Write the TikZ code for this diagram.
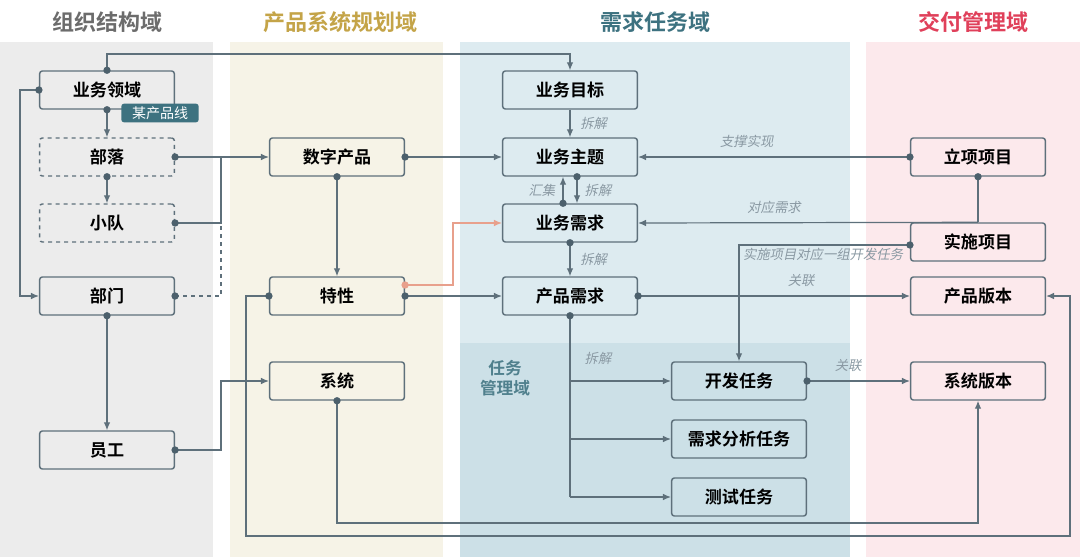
\documentclass[tikz,border=0pt]{standalone}
\usepackage{fontspec}
\setmainfont{Noto Sans CJK SC}
\newfontfamily\cjkb{Noto Sans CJK SC}[BoldFont=* Bold]
\newfontfamily\lblfont{Noto Sans CJK SC}[FakeSlant=0.2]
\usetikzlibrary{arrows.meta}
\definecolor{ln}{HTML}{5E707B}
\definecolor{dotc}{HTML}{4C606C}
\definecolor{bggray}{HTML}{ECECEC}
\definecolor{bgbeige}{HTML}{F6F3E7}
\definecolor{bgblue}{HTML}{DDEBF0}
\definecolor{bgblue2}{HTML}{CCE0E7}
\definecolor{bgpink}{HTML}{FCE9EC}
\definecolor{teal}{HTML}{3D7280}
\definecolor{orng}{HTML}{E8A08C}
\definecolor{lblc}{HTML}{8A99A3}
\begin{document}
\begin{tikzpicture}[x=0.75pt,y=-0.75pt,
  box/.style={draw=ln,line width=1.1pt,rounded corners=2pt,minimum width=101pt,minimum height=28.5pt,font=\cjkb\bfseries\fontsize{12.8}{13}\selectfont,text=black},
  dbox/.style={box,dashed},
  con/.style={draw=ln,line width=0.9pt},
  arr/.style={con,-{Latex[length=6pt,width=5pt]}},
  dot/.style={fill=dotc,circle,inner sep=0pt,minimum size=5.5pt},
  lbl/.style={font=\lblfont\fontsize{10}{10}\selectfont,text=lblc},
  hdr/.style={font=\cjkb\bfseries\fontsize{16.5}{17}\selectfont}]
\useasboundingbox (0,0) rectangle (1080,557);
\fill[white] (0,0) rectangle (1080,557);
% backgrounds
\fill[bggray] (0,42) rectangle (213,557);
\fill[bgbeige] (230,42) rectangle (443,557);
\fill[bgblue] (460,42) rectangle (850,557);
\fill[bgblue2] (460,343) rectangle (850,557);
\fill[bgpink] (866,42) rectangle (1080,557);
% headers
\node[hdr,text=gray!85!black] at (107,22) {组织结构域};
\node[hdr,text={rgb,255:red,196;green,164;blue,72}] at (340,22) {产品系统规划域};
\node[hdr,text=teal] at (655,22) {需求任务域};
\node[hdr,text={rgb,255:red,224;green,64;blue,90}] at (973,22) {交付管理域};
\node[font=\cjkb\bfseries\fontsize{12.5}{15}\selectfont,text=teal!90,align=center] at (505,378) {任务\\管理域};
% nodes
\node[box,fill=bggray] (ly) at (107,90) {业务领域};
\node[dbox,fill=bggray] (bl) at (107,157) {部落};
\node[dbox,fill=bggray] (xd) at (107,223) {小队};
\node[box,fill=bggray] (bm) at (107,296) {部门};
\node[box,fill=bggray] (yg) at (107,450) {员工};
\node[fill=teal,rounded corners=2pt,text=white,font=\fontsize{10.5}{10.5}\selectfont,minimum width=58pt,minimum height=14pt,inner sep=1pt] (tag) at (160,113) {某产品线};
\node[box,fill=bgbeige] (sz) at (337,157) {数字产品};
\node[box,fill=bgbeige] (tx) at (337,296) {特性};
\node[box,fill=bgbeige] (xt) at (337,381) {系统};
\node[box,fill=bgblue] (mb) at (570,90) {业务目标};
\node[box,fill=bgblue] (zt) at (570,157) {业务主题};
\node[box,fill=bgblue] (xq) at (570,223) {业务需求};
\node[box,fill=bgblue] (cp) at (570,296) {产品需求};
\node[box,fill=bgblue2] (kf) at (739,381) {开发任务};
\node[box,fill=bgblue2] (fx) at (739,439) {需求分析任务};
\node[box,fill=bgblue2] (cs) at (739,497) {测试任务};
\node[box,fill=bgpink] (lx) at (978,157) {立项项目};
\node[box,fill=bgpink] (ss) at (978,242) {实施项目};
\node[box,fill=bgpink] (bb) at (978,296) {产品版本};
\node[box,fill=bgpink] (xb) at (978,381) {系统版本};
% connectors left
\draw[arr] (ly.north) -- (107,54) -| (mb.north);
\draw[arr] (ly.west) -- (20,90) |- (bm.west);
\draw[arr] (ly.south) -- (bl.north);
\draw[arr] (bl.south) -- (xd.north);
\draw[arr] (bl.east) -- (sz.west);
\draw[con] (xd.east) -- (221,223) -- (221,157);
\draw[con,dashed] (bm.east) -- (221,296) -- (221,223);
\draw[arr] (bm.south) -- (yg.north);
\draw[arr] (yg.east) -- (221,450) |- (xt.west);
\draw[arr] (sz.south) -- (tx.north);
\draw[arr] (sz.east) -- (zt.west);
\coordinate (txo) at ([yshift=8.25pt]tx.east);
\draw[draw=orng,line width=0.9pt,-{Latex[length=6pt,width=5pt]}] (txo) -- (453,285) |- (xq.west);
\draw[arr] (tx.east) -- (cp.west);
\draw[arr] (tx.west) -- (246,296) -- (246,536) -- (1070,536) |- (bb.east);
\draw[arr] (xt.south) -- (337,523) -| (xb.south);
% middle
\draw[arr] (mb.south) -- (zt.north) node[lbl,midway,right=4pt] {拆解};
\coordinate (zts) at ([xshift=5.25pt]zt.south);
\coordinate (xqn1) at ([xshift=5.25pt]xq.north);
\coordinate (xqn2) at ([xshift=-5.25pt]xq.north);
\coordinate (zts2) at ([xshift=-5.25pt]zt.south);
\draw[arr] (zts) -- (xqn1) node[lbl,midway,right=2pt] {拆解};
\draw[arr] (xqn2) -- (zts2) node[lbl,midway,left=2pt] {汇集};
\draw[arr] (xq.south) -- (cp.north) node[lbl,midway,right=4pt] {拆解};
\draw[con] (cp.south) -- (570,497);
\draw[arr] (570,381) -- (kf.west);
\draw[arr] (570,439) -- (fx.west);
\draw[arr] (570,497) -- (cs.west);
\node[lbl] at (598,358) {拆解};
\draw[arr] (cp.east) -- (bb.west) node[lbl,pos=0.6,above=3pt] {关联};
\draw[arr] (lx.west) -- (zt.east) node[lbl,pos=0.6,above=3pt] {支撑实现};
\draw[con] (lx.south) -- (ss.north);
\draw[arr] (ss.north) -- (xq.east) node[lbl,pos=0.6,above=3pt] {对应需求};
\coordinate (ssw) at ([yshift=-2.25pt]ss.west);
\draw[arr] (ssw) -- (739,245) -- (kf.north);
\node[lbl] at (823,254) {实施项目对应一组开发任务};
\draw[arr] (kf.east) -- (xb.west) node[lbl,pos=0.4,above=3pt] {关联};
% dots
\foreach \p in {ly.north,ly.west,ly.south,bl.east,bl.south,xd.east,bm.east,bm.south,yg.east,sz.south,sz.east,tx.east,tx.west,xt.south,zts,xqn2,xq.south,cp.south,cp.east,lx.west,lx.south,ssw,kf.east}
  \node[dot] at (\p) {};
\node[dot,fill=orng] at (txo) {};
\end{tikzpicture}
\end{document}
